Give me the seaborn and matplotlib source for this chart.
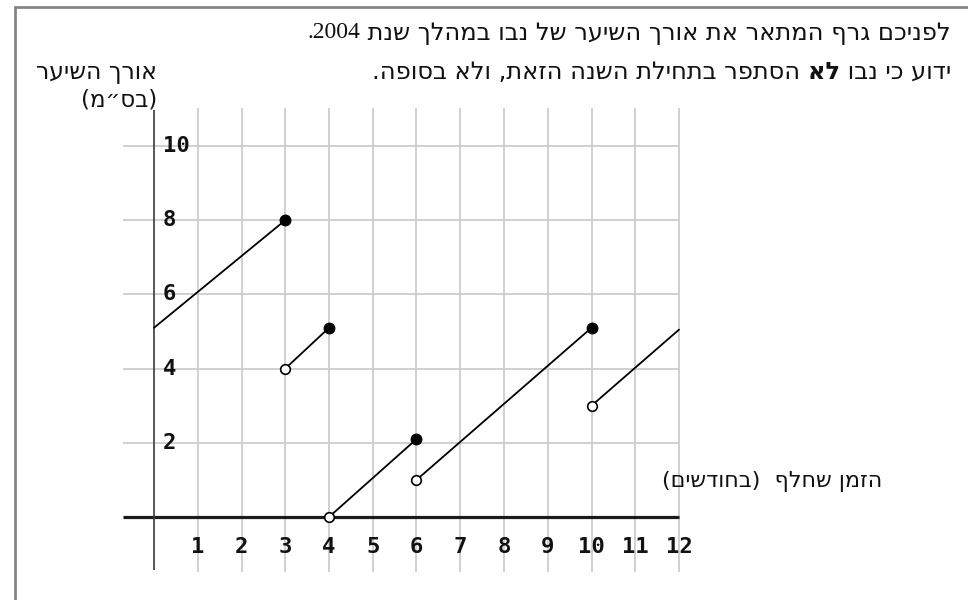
import re
import pandas as pd
import matplotlib
matplotlib.use("Agg")
import matplotlib.pyplot as plt
from matplotlib.lines import Line2D
import seaborn as sns

# Hair length (cm) through 2004: each piece runs from one haircut to the next
seg_start_x = [0, 3, 4, 6, 10]
seg_start_y = [5.1, 4.0, 0.0, 1.0, 3.0]
seg_end_x = [3, 4, 6, 10, 12]
seg_end_y = [8.0, 5.1, 2.1, 5.1, 5.05]

# endpoints that belong to the graph (filled) and those that do not (hollow)
closed_x = [3, 4, 6, 10]
closed_y = [8.0, 5.1, 2.1, 5.1]
open_x = [3, 4, 6, 10]
open_y = [4.0, 0.0, 1.0, 3.0]

x_ticks = [1, 2, 3, 4, 5, 6, 7, 8, 9, 10, 11, 12]
y_ticks = [2, 4, 6, 8, 10]

title_1_words = "לפניכם גרף המתאר את אורך השיער של נבו במהלך שנת "
title_1_year = "2004."
title_2_right = "ידוע כי נבו "
title_2_bold = "לא"
title_2_left = " הסתפר בתחילת השנה הזאת, ולא בסופה."
y_label_1 = "אורך השיער"
y_label_2 = "(בס״מ)"
x_label = "הזמן שחלף  (בחודשים)"


def visual(s):
    """Right-to-left text laid out for left-to-right drawing."""
    r = s[::-1]
    r = re.sub(r"[0-9]+", lambda m: m.group(0)[::-1], r)
    return r.translate(str.maketrans("()", ")("))


sns.set_style("white")
plt.rcParams["font.family"] = ["DejaVu Sans"]

W, H = 968, 600
fig = plt.figure(figsize=(W / 100, H / 100), dpi=100)

# pixel geometry of the coordinate system
x0_px, px_per_x = 154.0, 43.75
y0_px, px_per_y = 517.0, 37.1
xlim = (-0.8, 12.3)
ylim = (-1.7, 11.3)
left = x0_px + xlim[0] * px_per_x
right = x0_px + xlim[1] * px_per_x
bottom = y0_px - ylim[0] * px_per_y
top = y0_px - ylim[1] * px_per_y
ax = fig.add_axes([left / W, (H - bottom) / H, (right - left) / W, (bottom - top) / H])

# grid
grid_c = "#cdcdcd"
ax.vlines(x_ticks, -1.48, 11.02, color=grid_c, lw=1.3, zorder=1)
ax.hlines(y_ticks, -0.7, 12, color=grid_c, lw=1.3, zorder=1)

# axes
ax.hlines(0, -0.7, 12, color="#1c1c1c", lw=2.3, zorder=2)
ax.vlines(0, -1.43, 10.97, color="#3a3a3a", lw=1.2, zorder=2)

# graph pieces
rows = []
for i, (xs, ys, xe, ye) in enumerate(zip(seg_start_x, seg_start_y, seg_end_x, seg_end_y)):
    rows.append({"piece": i, "month": xs, "length": ys})
    rows.append({"piece": i, "month": xe, "length": ye})
df = pd.DataFrame(rows)
sns.lineplot(data=df, x="month", y="length", units="piece", estimator=None,
             sort=False, color="black", lw=1.3, legend=False, ax=ax, zorder=3)
sns.scatterplot(x=closed_x, y=closed_y, color="black", edgecolor="black",
                s=60, linewidth=0.8, ax=ax, zorder=5)
sns.scatterplot(x=open_x, y=open_y, color="white", edgecolor="black",
                s=48, linewidth=1.2, ax=ax, zorder=5)
ax.set_xlim(*xlim)
ax.set_ylim(*ylim)
ax.axis("off")

# tick labels
tick_font = dict(family="DejaVu Sans Mono", fontweight="bold", fontsize=16, color="#111111")
for v in y_ticks:
    ax.text(0.2, v, str(v), ha="left", va="center", zorder=4, **tick_font)
for v in x_ticks:
    ax.text(v, -0.8, str(v), ha="center", va="center", zorder=4, **tick_font)


def fx(px):
    return px / W


def fy(py):
    return 1 - py / H


ink = "#111111"
head = dict(fontsize=17.4, color=ink)

t1 = fig.text(fx(951), fy(33), visual(title_1_words), ha="right", va="center", **head)
ax.annotate(visual(title_1_year), xy=(0, 0.5), xycoords=t1, ha="right", va="center",
            family="Liberation Serif", fontsize=17, color=ink, annotation_clip=False)
t_r = fig.text(fx(951), fy(72), visual(title_2_right), ha="right", va="center", **head)
t_b = ax.annotate(visual(title_2_bold), xy=(0, 0.5), xycoords=t_r, ha="right", va="center",
                  fontweight="bold", annotation_clip=False, **head)
ax.annotate(visual(title_2_left), xy=(0, 0.5), xycoords=t_b, ha="right", va="center",
            annotation_clip=False, **head)

fig.text(fx(157), fy(72), visual(y_label_1), ha="right", va="center", fontsize=17, color=ink)
fig.text(fx(157), fy(100), visual(y_label_2), ha="right", va="center", fontsize=16.5, color=ink)
fig.text(fx(882), fy(482), visual(x_label), ha="right", va="center", fontsize=16, color=ink)

# page frame
frame_c = "#858585"
fig.add_artist(Line2D([fx(15), fx(15)], [0, fy(7)], color=frame_c, lw=2.0))
fig.add_artist(Line2D([fx(15), 1], [fy(7), fy(7)], color=frame_c, lw=2.0))

fig.savefig("out.png", dpi=100)
